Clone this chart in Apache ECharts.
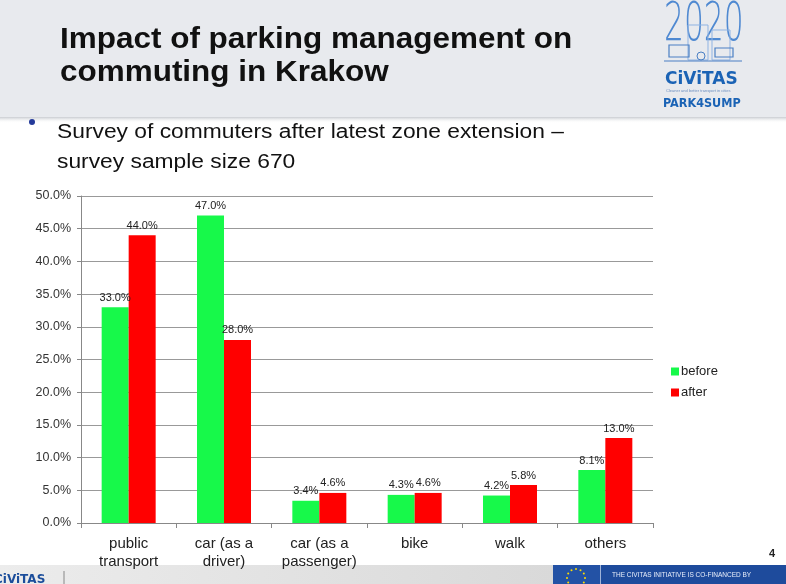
<!DOCTYPE html>
<html>
<head>
<meta charset="utf-8">
<script src="https://cdn.jsdelivr.net/npm/echarts@6/dist/echarts.min.js"></script>
<style>html,body{margin:0;padding:0;background:#fff}#c{width:786px;height:584px}</style>
</head>
<body>
<div id="c"></div>
<script>
var categories = ['public\ntransport', 'car (as a\ndriver)', 'car (as a\npassenger)', 'bike', 'walk', 'others'];
var beforeValues = [33.0, 47.0, 3.4, 4.3, 4.2, 8.1];
var afterValues = [44.0, 28.0, 4.6, 4.6, 5.8, 13.0];
var yTicks = { min: 0, max: 50, interval: 5 };
var seriesNames = ['before', 'after'];

var chart = echarts.init(document.getElementById('c'), null, { renderer: 'canvas' });
var FONT = 'Liberation Sans, Arial, sans-serif';

var stars = [];
for (var i = 0; i < 12; i++) {
  var a = i / 12 * Math.PI * 2;
  stars.push({ type: 'circle', shape: { cx: 576 + Math.cos(a) * 9, cy: 578 + Math.sin(a) * 9, r: 1 }, style: { fill: '#ffdd00' } });
}

var graphics = [
  { type: 'rect', shape: { x: 0, y: 0, width: 786, height: 117 }, style: { fill: '#e8eaee' }, z: -10 },
  { type: 'rect', shape: { x: 0, y: 117, width: 786, height: 6 },
    style: { fill: new echarts.graphic.LinearGradient(0, 0, 0, 1, [{ offset: 0, color: '#c9ccd1' }, { offset: 1, color: 'rgba(255,255,255,0)' }]) }, z: -10 },
  { type: 'text', x: 60, y: 25, scaleX: 1.085, style: { text: 'Impact of parking management on', font: 'bold 29px ' + FONT, fill: '#111', verticalAlign: 'top' } },
  { type: 'text', x: 60, y: 58, scaleX: 1.085, style: { text: 'commuting in Krakow', font: 'bold 29px ' + FONT, fill: '#111', verticalAlign: 'top' } },
  { type: 'circle', shape: { cx: 32, cy: 122, r: 3 }, style: { fill: '#243a9a' } },
  { type: 'text', x: 57, y: 122, scaleX: 1.14, style: { text: 'Survey of commuters after latest zone extension \u2013', font: '20px ' + FONT, fill: '#111', verticalAlign: 'top' } },
  { type: 'text', x: 57, y: 152, scaleX: 1.14, style: { text: 'survey sample size 670', font: '20px ' + FONT, fill: '#111', verticalAlign: 'top' } },
  // logo
  { type: 'text', x: 664, y: -1, scaleX: 0.58, style: { text: '2020', font: '200 54px "DejaVu Sans ExtraLight", "DejaVu Sans", sans-serif', fill: '#4f89d1', verticalAlign: 'top' } },
  { type: 'rect', shape: { x: 688, y: 25, width: 20, height: 35 }, style: { fill: 'none', stroke: '#8fb3e3', lineWidth: 1 } },
  { type: 'rect', shape: { x: 712, y: 30, width: 18, height: 30 }, style: { fill: 'none', stroke: '#8fb3e3', lineWidth: 1 } },
  { type: 'rect', shape: { x: 669, y: 45, width: 20, height: 12 }, style: { fill: 'none', stroke: '#4a7fc4', lineWidth: 1.2 } },
  { type: 'circle', shape: { cx: 701, cy: 56, r: 4 }, style: { fill: 'none', stroke: '#4a7fc4', lineWidth: 1 } },
  { type: 'rect', shape: { x: 715, y: 48, width: 18, height: 9 }, style: { fill: 'none', stroke: '#4a7fc4', lineWidth: 1.2 } },
  { type: 'line', shape: { x1: 664, y1: 61, x2: 742, y2: 61 }, style: { stroke: '#4a7fc4', lineWidth: 1.2 } },
  { type: 'text', x: 665, y: 71, style: { text: 'CiViTAS', font: 'bold 17px DejaVu Sans, sans-serif', fill: '#1b63b5', verticalAlign: 'top' } },
  { type: 'text', x: 666, y: 89, style: { text: 'Cleaner and better transport in cities', font: '4px ' + FONT, fill: '#6c8fc0', verticalAlign: 'top' } },
  { type: 'text', x: 663, y: 97, style: { text: 'PARK4SUMP', font: 'bold 12.5px DejaVu Sans Condensed, sans-serif', fill: '#1b63b5', verticalAlign: 'top' } },
  // page number
  { type: 'text', x: 769, y: 548, style: { text: '4', font: 'bold 11px ' + FONT, fill: '#222', verticalAlign: 'top' } },
  // footer
  { type: 'rect', shape: { x: 0, y: 565, width: 553, height: 19 },
    style: { fill: new echarts.graphic.LinearGradient(0, 0, 1, 0, [{ offset: 0, color: '#ececec' }, { offset: 1, color: '#d9d9d9' }]) } },
  { type: 'text', x: -6, y: 574, style: { text: 'CiViTAS', font: 'bold 12px DejaVu Sans, sans-serif', fill: '#1b4d9b', verticalAlign: 'top' } },
  { type: 'line', shape: { x1: 64, y1: 571, x2: 64, y2: 584 }, style: { stroke: '#888', lineWidth: 1 } },
  { type: 'rect', shape: { x: 553, y: 565, width: 47, height: 19 }, style: { fill: '#2352a5' } },
  { type: 'rect', shape: { x: 600, y: 565, width: 186, height: 19 }, style: { fill: '#1e4b9c' } },
  { type: 'line', shape: { x1: 600.5, y1: 565, x2: 600.5, y2: 584 }, style: { stroke: '#9fb3d8', lineWidth: 1 } },
  { type: 'text', x: 612, y: 572, style: { text: 'THE CIVITAS INITIATIVE IS CO-FINANCED BY', font: '6.5px ' + FONT, fill: '#e8eefa', verticalAlign: 'top' } }
].concat(stars);

var labelOpt = {
  show: true, position: 'top', distance: 4,
  fontFamily: FONT, fontSize: 11, color: '#222',
  formatter: function (p) { return p.value.toFixed(1) + '%'; }
};

chart.setOption({
  animation: false,
  backgroundColor: '#ffffff',
  graphic: graphics,
  grid: { left: 81, right: 133, top: 196, bottom: 61, containLabel: false },
  legend: {
    orient: 'vertical', left: 666, top: 360,
    itemWidth: 8, itemHeight: 8, itemGap: 8,
    icon: 'rect',
    textStyle: { fontFamily: FONT, fontSize: 13, color: '#222', padding: [0, 0, 0, -3] },
    data: seriesNames
  },
  xAxis: {
    type: 'category', data: categories,
    axisLine: { lineStyle: { color: '#888', width: 1 } },
    axisTick: { show: true, length: 5, lineStyle: { color: '#888' }, alignWithLabel: false },
    axisLabel: { fontFamily: FONT, fontSize: 15, color: '#222', lineHeight: 18, margin: 12, interval: 0 }
  },
  yAxis: {
    type: 'value', min: yTicks.min, max: yTicks.max, interval: yTicks.interval,
    axisLine: { show: true, lineStyle: { color: '#888', width: 1 } },
    axisTick: { show: true, length: 4, lineStyle: { color: '#888' } },
    splitLine: { lineStyle: { color: '#999', width: 1 } },
    axisLabel: { fontFamily: FONT, fontSize: 12.5, color: '#333', margin: 10,
      formatter: function (v) { return v.toFixed(1) + '%'; } }
  },
  series: [
    { name: seriesNames[0], type: 'bar', data: beforeValues, barWidth: 27, barGap: '0%',
      itemStyle: { color: '#17f94a' }, label: labelOpt },
    { name: seriesNames[1], type: 'bar', data: afterValues, barWidth: 27, barGap: '0%',
      itemStyle: { color: '#ff0000' }, label: labelOpt }
  ]
});
</script>
</body>
</html>
